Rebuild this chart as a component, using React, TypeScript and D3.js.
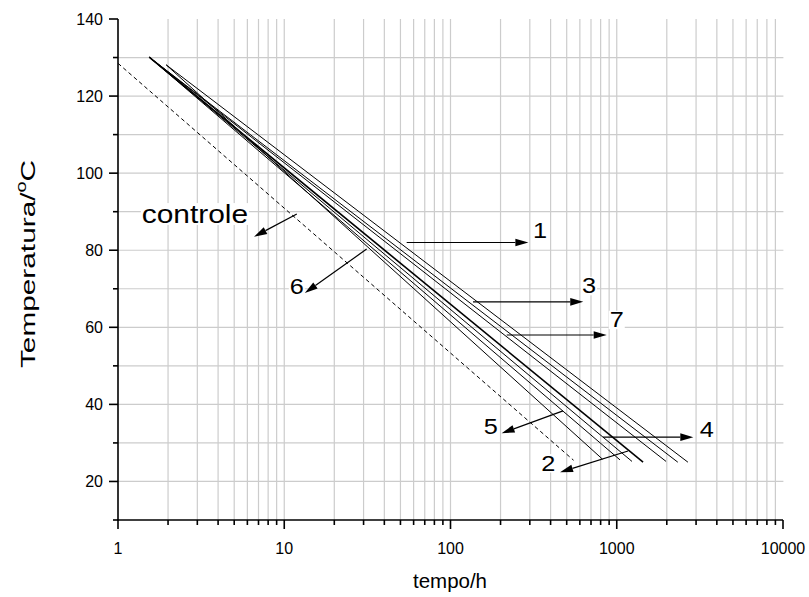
import React from "react";
import * as d3 from "d3";

const W = 809;
const H = 597;

// Curves: controle (dashed) + 1..7 (solid), straight in log(tempo)
const curveNames = ["controle", "1", "2", "3", "4", "5", "6", "7"];
const tempoStart = [1.0, 1.95, 1.54, 1.54, 1.54, 1.54, 1.95, 1.54];
const tempoEnd = [550, 2680, 1440, 2330, 1235, 1046, 820, 1980];
const tempStart = [128.5, 128.1, 130.1, 130.1, 130.1, 130.1, 128.1, 130.1];
const tempEnd = [25.5, 25.0, 25.0, 25.0, 25.2, 25.6, 25.8, 25.2];

// Annotation arrows (data units)
const arrowTailT = [11.9, 54.5, 1169, 136.6, 826, 475, 31.3, 217.8];
const arrowTailY = [89.4, 82.0, 27.9, 66.6, 31.5, 38.3, 80.3, 58.0];
const arrowHeadT = [6.58, 294, 456, 629, 2887, 203, 13.3, 870];
const arrowHeadY = [83.5, 82.0, 22.4, 66.6, 31.5, 32.5, 68.9, 58.0];
const labelT = [2.9, 345, 387, 681, 3476, 175, 11.9, 1000];
const labelY = [89.4, 85.2, 24.7, 70.7, 33.5, 34.2, 70.5, 61.9];

const xMajorTicks = [1, 10, 100, 1000, 10000];
const xTickLabels = ["1", "10", "100", "1000", "10000"];
const yMajorTicks = [20, 40, 60, 80, 100, 120, 140];
const yMinorTicks = [10, 30, 50, 70, 90, 110, 130];

const x = d3.scaleLog().domain([1, 10000]).range([118, 783]);
const y = d3.scaleLinear().domain([10, 140]).range([520, 19]);

const xMinor: number[] = [];
for (let k = 0; k < 4; k++) for (let m = 2; m <= 9; m++) xMinor.push(m * Math.pow(10, k));
const xGrid = xMinor.concat([10, 100, 1000]);
const yGrid = d3.range(20, 131, 10);

const FONT = "'Liberation Sans', Arial, sans-serif";

export default function App() {
  const line = d3
    .line<[number, number]>()
    .x((d) => x(d[0]))
    .y((d) => y(d[1]));

  const arrows = curveNames.map((name, i) => {
    const x1 = x(arrowTailT[i]);
    const y1 = y(arrowTailY[i]);
    const x2 = x(arrowHeadT[i]);
    const y2 = y(arrowHeadY[i]);
    const ang = Math.atan2(y2 - y1, x2 - x1);
    const L = 13;
    const hw = 3.8;
    const bx = x2 - L * Math.cos(ang);
    const by = y2 - L * Math.sin(ang);
    const px = -Math.sin(ang) * hw;
    const py = Math.cos(ang) * hw;
    return { x1, y1, x2, y2, bx, by, head: `M${x2},${y2}L${bx + px},${by + py}L${bx - px},${by - py}Z` };
  });

  const labels = curveNames.map((name, i) => {
    const fs = name === "controle" ? 26 : 22;
    const w = name === "controle" ? 106 : 14;
    return { name, fs, w, cx: x(labelT[i]), cy: y(labelY[i]) };
  });

  return (
    <svg
      width={W}
      height={H}
      style={{ position: "absolute", left: 0, top: 0, background: "#fff" }}
      fontFamily={FONT}
    >
      <rect x={0} y={0} width={W} height={H} fill="#fff" />
      {/* grid */}
      <g stroke="#cccccc" strokeWidth={1.2}>
        {xGrid.map((v) => (
          <line key={"gx" + v} x1={x(v)} x2={x(v)} y1={y(140)} y2={y(10)} />
        ))}
        {yGrid.map((v) => (
          <line key={"gy" + v} x1={x(1)} x2={x(9000) + 8} y1={y(v)} y2={y(v)} />
        ))}
      </g>
      {/* label backgrounds */}
      {labels.map((l) => (
        <rect
          key={"bg" + l.name}
          x={l.cx - l.w / 2 - 1}
          y={l.cy - l.fs * 0.42}
          width={l.w + 2}
          height={l.fs * 0.84}
          fill="#fff"
        />
      ))}
      {/* curves */}
      {curveNames.map((name, i) => (
        <path
          key={"c" + name}
          d={line([
            [tempoStart[i], tempStart[i]],
            [tempoEnd[i], tempEnd[i]],
          ]) as string}
          fill="none"
          stroke="#000"
          strokeWidth={name === "controle" ? 1 : name === "2" ? 1.6 : 1}
          strokeDasharray={name === "controle" ? "4,3" : undefined}
        />
      ))}
      {/* arrows */}
      {arrows.map((a, i) => (
        <g key={"a" + i}>
          <line x1={a.x1} y1={a.y1} x2={a.bx} y2={a.by} stroke="#000" strokeWidth={1.2} />
          <path d={a.head} fill="#000" />
        </g>
      ))}
      {/* labels */}
      {labels.map((l) => (
        <text
          key={"t" + l.name}
          transform={`translate(${l.cx},${l.cy}) scale(1.15,1)`}
          fontSize={l.fs}
          textAnchor="middle"
          dominantBaseline="central"
          fill="#000"
        >
          {l.name}
        </text>
      ))}
      {/* axes */}
      <g stroke="#000" strokeWidth={1.6}>
        <line x1={x(1)} x2={x(1)} y1={y(140)} y2={y(10) + 0.8} />
        <line x1={x(1) - 0.8} x2={x(10000)} y1={y(10)} y2={y(10)} />
        {yMajorTicks.map((v) => (
          <line key={"ym" + v} x1={x(1) - 9} x2={x(1)} y1={y(v)} y2={y(v)} />
        ))}
        {yMinorTicks.map((v) => (
          <line key={"yn" + v} x1={x(1) - 5} x2={x(1)} y1={y(v)} y2={y(v)} />
        ))}
        {xMajorTicks.map((v) => (
          <line key={"xm" + v} x1={x(v)} x2={x(v)} y1={y(10)} y2={y(10) + 9} />
        ))}
        {xMinor.map((v) => (
          <line key={"xn" + v} x1={x(v)} x2={x(v)} y1={y(10)} y2={y(10) + 5} />
        ))}
      </g>
      {/* tick labels */}
      {yMajorTicks.map((v) => (
        <text
          key={"yl" + v}
          x={x(1) - 15}
          y={y(v)}
          fontSize={16}
          textAnchor="end"
          dominantBaseline="central"
        >
          {v}
        </text>
      ))}
      {xMajorTicks.map((v, i) => (
        <text
          key={"xl" + v}
          x={x(v)}
          y={y(10) + 28}
          fontSize={16}
          textAnchor="middle"
          dominantBaseline="central"
        >
          {xTickLabels[i]}
        </text>
      ))}
      {/* axis titles */}
      <text x={450} y={580} fontSize={20.5} textAnchor="middle" dominantBaseline="central">
        tempo/h
      </text>
      <text
        transform={`translate(28,264) rotate(-90) scale(1.42,1)`}
        fontSize={21}
        textAnchor="middle"
        dominantBaseline="central"
      >
        Temperatura/
        <tspan fontSize={14} dy={-7}>o</tspan>
        <tspan dy={7}>C</tspan>
      </text>
    </svg>
  );
}
